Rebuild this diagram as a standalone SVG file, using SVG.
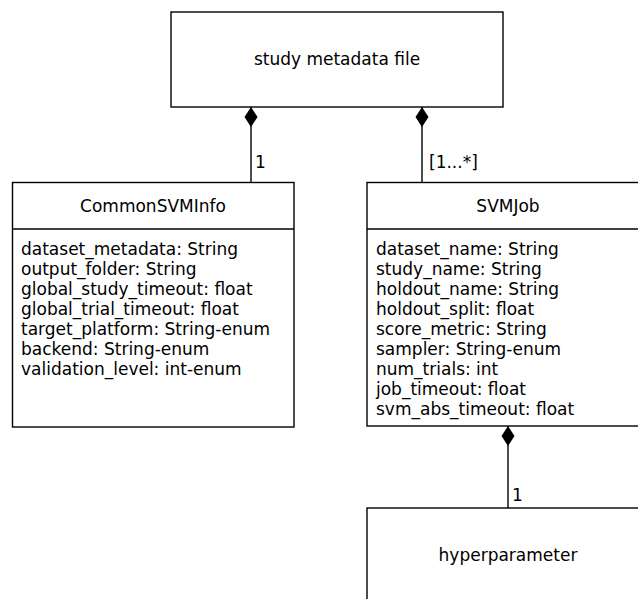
<svg xmlns="http://www.w3.org/2000/svg" width="638" height="599" viewBox="0 0 638 599">
  <style>
    .box { fill: #ffffff; stroke: #000000; stroke-width: 1.4; }
    .edge { fill: none; stroke: #000000; stroke-width: 1.4; }
    text { font-family: "DejaVu Sans", "Liberation Sans", sans-serif; font-size: 17px; fill: #000000; }
    .c { text-anchor: middle; }
  </style>
  <defs>
    <marker id="composition" viewBox="0 0 20 14" refX="0" refY="7" markerWidth="20" markerHeight="14" markerUnits="userSpaceOnUse" orient="auto">
      <path d="M0,7 L10,0.5 L20,7 L10,13.5 Z" fill="#000000"/>
    </marker>
  </defs>
  <rect width="638" height="599" fill="#ffffff"/>

  <g id="study-metadata-file">
    <rect class="box" x="171" y="12" width="332" height="95"/>
    <text class="c" x="337" y="65">study metadata file</text>
  </g>

  <g id="common-svm-info">
    <rect class="box" x="12.5" y="182.5" width="281.5" height="244.5"/>
    <line class="edge" x1="12.5" y1="229" x2="294" y2="229"/>
    <text class="c" x="153" y="212">CommonSVMInfo</text>
    <text x="21" y="255">dataset_metadata: String</text>
    <text x="21" y="275">output_folder: String</text>
    <text x="21" y="295">global_study_timeout: float</text>
    <text x="21" y="315">global_trial_timeout: float</text>
    <text x="21" y="335">target_platform: String-enum</text>
    <text x="21" y="355">backend: String-enum</text>
    <text x="21" y="375">validation_level: int-enum</text>
  </g>

  <g id="svm-job">
    <rect class="box" x="367" y="182.5" width="282" height="243.5"/>
    <line class="edge" x1="367" y1="229" x2="649" y2="229"/>
    <text class="c" x="508" y="212">SVMJob</text>
    <text x="376" y="255">dataset_name: String</text>
    <text x="376" y="275">study_name: String</text>
    <text x="376" y="295">holdout_name: String</text>
    <text x="376" y="315">holdout_split: float</text>
    <text x="376" y="335">score_metric: String</text>
    <text x="376" y="355">sampler: String-enum</text>
    <text x="376" y="375">num_trials: int</text>
    <text x="376" y="395">job_timeout: float</text>
    <text x="376" y="415">svm_abs_timeout: float</text>
  </g>

  <g id="hyperparameter">
    <rect class="box" x="367" y="508" width="282" height="110"/>
    <text class="c" x="508" y="561">hyperparameter</text>
  </g>

  <g id="connectors">
    <line class="edge" x1="251" y1="107" x2="251" y2="182.5" marker-start="url(#composition)"/>
    <text x="255" y="168">1</text>
    <line class="edge" x1="422" y1="107" x2="422" y2="182.5" marker-start="url(#composition)"/>
    <text x="429" y="168">[1...*]</text>
    <line class="edge" x1="508" y1="426" x2="508" y2="508" marker-start="url(#composition)"/>
    <text x="512" y="501">1</text>
  </g>
</svg>
